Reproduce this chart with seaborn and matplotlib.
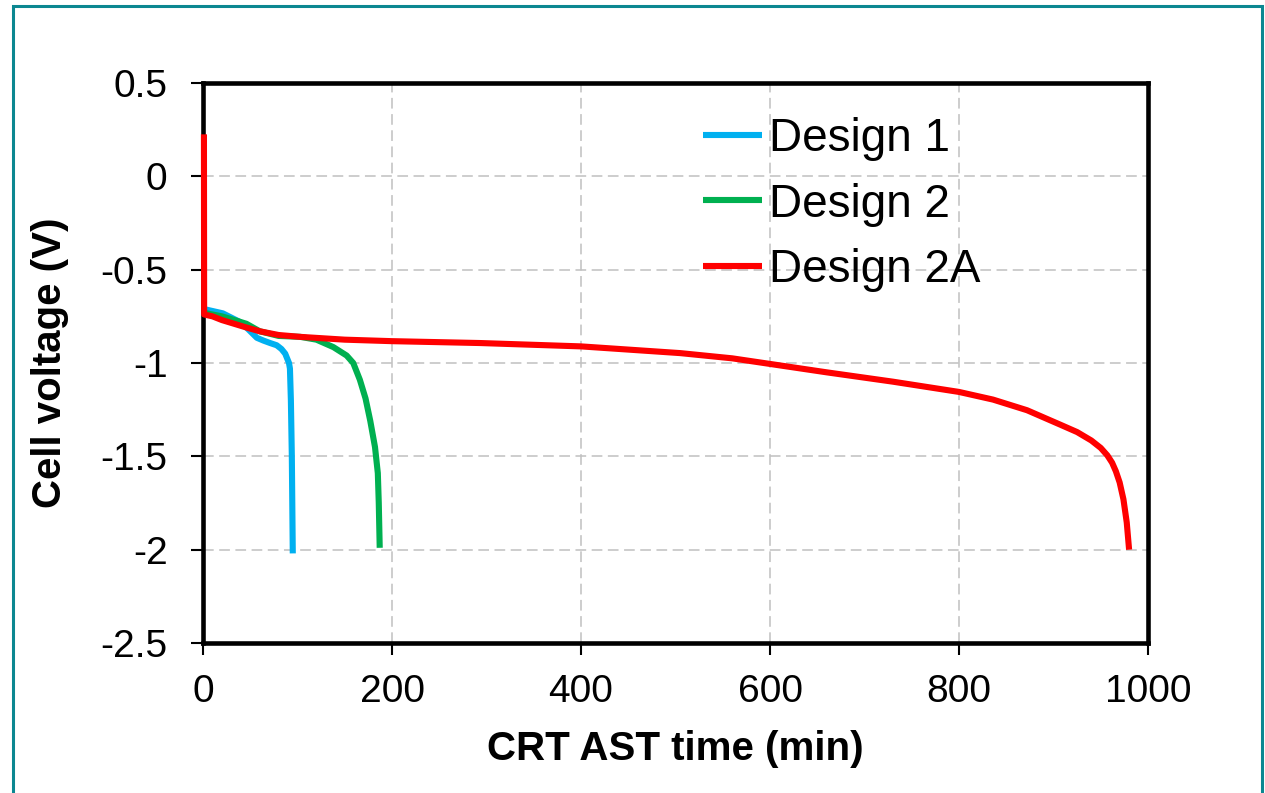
import numpy as np
import pandas as pd
import matplotlib
matplotlib.use("Agg")
import matplotlib.pyplot as plt
import seaborn as sns
from matplotlib.ticker import FuncFormatter
from matplotlib.patches import Rectangle

# ---- data ----
d1_time = [0, 2, 7, 21, 39, 46, 52, 57, 64, 71, 78, 83, 87, 89, 91, 92, 93, 94, 95]
d1_volt = [-0.71, -0.712, -0.718, -0.734, -0.78, -0.81, -0.84, -0.865, -0.88, -0.893, -0.905,
           -0.925, -0.95, -0.975, -1.0, -1.03, -1.2, -1.5, -2.02]

d2_time = [0, 10, 20, 30, 46, 60, 80, 103, 120, 138, 152, 159, 166, 172, 177, 182, 185, 186, 187]
d2_volt = [-0.73, -0.74, -0.75, -0.765, -0.79, -0.83, -0.855, -0.86, -0.875, -0.915, -0.96,
           -1.0, -1.09, -1.19, -1.31, -1.45, -1.59, -1.75, -1.99]

d2a_time = [1, 1.2, 10, 20, 46, 60, 80, 103, 150, 200, 293, 400, 505, 560, 600, 660, 730,
            800, 836, 872, 907, 925, 940, 950, 957, 962, 966, 970, 974, 977.5, 980]
d2a_volt = [0.225, -0.74, -0.75, -0.77, -0.81, -0.83, -0.85, -0.86, -0.875, -0.883, -0.893,
            -0.911, -0.947, -0.975, -1.005, -1.05, -1.1, -1.155, -1.196, -1.253, -1.33, -1.37,
            -1.415, -1.455, -1.495, -1.534, -1.58, -1.64, -1.73, -1.854, -2.0]

series_names = ["Design 1", "Design 2", "Design 2A"]
series_colors = ["#00B0F0", "#00B050", "#FF0000"]

x_ticks = [0, 200, 400, 600, 800, 1000]
y_ticks = [0.5, 0, -0.5, -1, -1.5, -2, -2.5]

df = pd.concat([
    pd.DataFrame({"time": d1_time, "volt": d1_volt, "series": series_names[0]}),
    pd.DataFrame({"time": d2_time, "volt": d2_volt, "series": series_names[1]}),
    pd.DataFrame({"time": d2a_time, "volt": d2a_volt, "series": series_names[2]}),
], ignore_index=True)

sns.set_theme(style="white")
plt.rcParams["font.family"] = ["Liberation Sans", "DejaVu Sans"]
plt.rcParams["text.color"] = "black"

W, H = 1265, 793
fig = plt.figure(figsize=(W / 100, H / 100), dpi=100)
ax = fig.add_axes([203 / W, 1 - 643 / H, (1148 - 203) / W, (643 - 83) / H])

sns.lineplot(data=df, x="time", y="volt", hue="series", hue_order=series_names,
             palette=dict(zip(series_names, series_colors)), sort=False, estimator=None,
             linewidth=4.4, ax=ax, legend=True)
for ln in ax.get_lines():
    ln.set_clip_on(False)
    ln.set_zorder(5)
    ln.set_solid_joinstyle("round")
    ln.set_solid_capstyle("butt")

ax.set_xlim(0, 1000)
ax.set_ylim(-2.5, 0.5)
ax.set_xticks(x_ticks)
ax.set_yticks(y_ticks)
ax.yaxis.set_major_formatter(FuncFormatter(lambda v, p: ("%g" % v).replace("\u2212", "-")))
ax.xaxis.set_major_formatter(FuncFormatter(lambda v, p: "%d" % v))

ax.grid(True, color="#c0c0c0", linestyle=(0, (7, 3.6)), linewidth=1.1)
ax.set_axisbelow(True)
for s in ax.spines.values():
    s.set_visible(True)
    s.set_color("black")
    s.set_linewidth(3.3)
    s.set_zorder(4)
ax.tick_params(axis="both", which="major", direction="out", length=8.5, width=1.5,
               color="black", labelsize=28, labelcolor="black",
               bottom=True, left=True)
ax.tick_params(axis="y", pad=17)
ax.tick_params(axis="x", pad=14)

ax.set_xlabel("CRT AST time (min)", fontsize=29, fontweight="bold", labelpad=14, color="black")
ax.set_ylabel("Cell voltage (V)", fontsize=29, fontweight="bold", labelpad=23, color="black")

leg = ax.legend(loc="upper left", bbox_to_anchor=(703 / W, 1 - 117 / H),
                bbox_transform=fig.transFigure, frameon=False, fontsize=33,
                handlelength=1.28, handletextpad=0.15, labelspacing=0.47,
                borderpad=0, borderaxespad=0)
for line in leg.get_lines():
    line.set_linewidth(4.4)
for t in leg.get_texts():
    t.set_color("black")

# teal outer frame
fig.patches.append(Rectangle((13 / W, -0.05), (1262 - 13) / W, 1 - 6 / H + 0.05,
                             transform=fig.transFigure, fill=False,
                             edgecolor="#0B8791", linewidth=2.2))

fig.savefig("out.png", dpi=100)
